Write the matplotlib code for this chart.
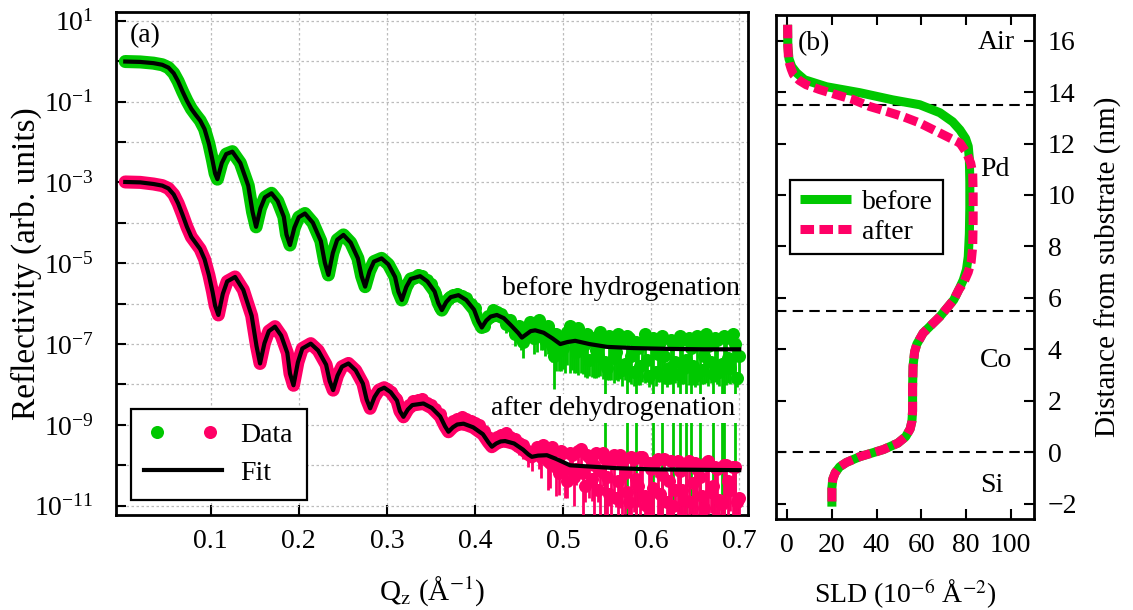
import numpy as np
import matplotlib
matplotlib.use("Agg")
import matplotlib.pyplot as plt
from matplotlib.ticker import FixedLocator, FuncFormatter, NullLocator
from matplotlib.lines import Line2D
from matplotlib.legend_handler import HandlerTuple

# ---------------------------------------------------------------- data
# Fitted reflectivity curves, log10(R) versus Qz (1/Angstrom)
q_fit_before = [0.003, 0.02, 0.035, 0.045, 0.052, 0.058, 0.063, 0.068, 0.073, 0.078,
                0.083, 0.088, 0.093, 0.098, 0.102, 0.105, 0.1076, 0.1126, 0.1176, 0.1246,
                0.1336, 0.1426, 0.1475, 0.1515, 0.1565, 0.1615, 0.169, 0.176, 0.183, 0.186,
                0.190, 0.195, 0.200, 0.207, 0.216, 0.225, 0.2296, 0.2336, 0.2386, 0.2436,
                0.2507, 0.2589, 0.2671, 0.2713, 0.2753, 0.2803, 0.2853, 0.294, 0.3017, 0.3093,
                0.313, 0.317, 0.322, 0.327, 0.3378, 0.346, 0.3542, 0.3584, 0.3624, 0.3674,
                0.3724, 0.3813, 0.3901, 0.399, 0.4038, 0.4078, 0.4128, 0.4178, 0.4249, 0.4328,
                0.4406, 0.4493, 0.4533, 0.4583, 0.4633, 0.4684, 0.478, 0.488, 0.4968, 0.505,
                0.5138, 0.53, 0.55, 0.58, 0.62, 0.66, 0.70]
logr_fit_before = [-0.01, -0.02, -0.05, -0.09, -0.16, -0.30, -0.50, -0.75, -0.98, -1.18,
                   -1.33, -1.47, -1.68, -2.05, -2.45, -2.78, -2.92, -2.52, -2.30, -2.24,
                   -2.52, -3.08, -3.73, -4.10, -3.64, -3.37, -3.27, -3.46, -3.85, -4.29,
                   -4.55, -4.12, -3.86, -3.77, -4.00, -4.45, -4.99, -5.29, -4.75, -4.42,
                   -4.30, -4.49, -4.88, -5.32, -5.58, -5.20, -4.96, -4.88, -5.03, -5.34,
                   -5.70, -5.91, -5.59, -5.39, -5.32, -5.45, -5.70, -5.99, -6.16, -5.96,
                   -5.84, -5.79, -5.91, -6.15, -6.43, -6.59, -6.42, -6.32, -6.28, -6.36,
                   -6.53, -6.73, -6.84, -6.76, -6.68, -6.66, -6.72, -6.86, -7.00, -6.95,
                   -6.92, -7.00, -7.07, -7.10, -7.12, -7.13, -7.13]

q_fit_after = [0.003, 0.02, 0.035, 0.045, 0.052, 0.058, 0.063, 0.068, 0.073, 0.078,
               0.083, 0.088, 0.093, 0.098, 0.102, 0.105, 0.1087, 0.1137, 0.1187, 0.1277,
               0.137, 0.1465, 0.152, 0.156, 0.161, 0.166, 0.173, 0.180, 0.187, 0.190,
               0.194, 0.199, 0.204, 0.2136, 0.222, 0.231, 0.235, 0.239, 0.244, 0.249,
               0.2564, 0.2646, 0.2728, 0.277, 0.281, 0.286, 0.291, 0.297, 0.3043, 0.3115,
               0.3148, 0.3188, 0.3238, 0.3288, 0.3415, 0.351, 0.3605, 0.3659, 0.3699, 0.3749,
               0.3799, 0.387, 0.398, 0.409, 0.4152, 0.4192, 0.4242, 0.4292, 0.4343, 0.4444,
               0.4545, 0.4606, 0.4646, 0.4716, 0.4817, 0.492, 0.508, 0.53, 0.56, 0.60,
               0.65, 0.70]
logr_fit_after = [-2.99, -3.00, -3.04, -3.08, -3.15, -3.30, -3.52, -3.80, -4.10, -4.35,
                  -4.50, -4.65, -4.90, -5.30, -5.70, -6.05, -6.28, -5.76, -5.45, -5.34,
                  -5.66, -6.30, -7.05, -7.48, -6.98, -6.68, -6.57, -6.79, -7.22, -7.73,
                  -8.02, -7.45, -7.11, -6.99, -7.16, -7.51, -7.91, -8.14, -7.78, -7.56,
                  -7.48, -7.65, -7.98, -8.37, -8.59, -8.31, -8.14, -8.08, -8.19, -8.40,
                  -8.66, -8.80, -8.62, -8.51, -8.47, -8.58, -8.79, -9.03, -9.17, -9.06,
                  -8.99, -8.97, -9.06, -9.23, -9.43, -9.54, -9.46, -9.41, -9.40, -9.46,
                  -9.61, -9.73, -9.79, -9.76, -9.75, -9.84, -10.00, -10.03, -10.07, -10.10,
                  -10.11, -10.12]

# Below these Qz values the measured points lie on the model curve
q_clean_before = 0.46
q_clean_after = 0.47

# Measured points in the noisy high-Q range: Qz, log10(R) and relative error dR/R
q_meas_before = [
    0.330, 0.335, 0.340, 0.345, 0.350, 0.355, 0.360, 0.365, 0.370, 0.375,
    0.380, 0.385, 0.390, 0.395, 0.400, 0.405, 0.410, 0.415, 0.420, 0.425,
    0.430, 0.435, 0.440, 0.445,
    0.4500, 0.4525, 0.4550, 0.4575, 0.4600, 0.4625, 0.4650, 0.4675, 0.4700, 0.4725,
    0.4750, 0.4775, 0.4800, 0.4825, 0.4850, 0.4875, 0.4900, 0.4925, 0.4950, 0.4975,
    0.5000, 0.5025, 0.5050, 0.5075, 0.5100, 0.5125, 0.5150, 0.5175, 0.5200, 0.5225,
    0.5250, 0.5275, 0.5300, 0.5325, 0.5350, 0.5375, 0.5400, 0.5425, 0.5450, 0.5475,
    0.5500, 0.5525, 0.5550, 0.5575, 0.5600, 0.5625, 0.5650, 0.5675, 0.5700, 0.5725,
    0.5750, 0.5775, 0.5800, 0.5825, 0.5850, 0.5875, 0.5900, 0.5925, 0.5950, 0.5975,
    0.6000, 0.6025, 0.6050, 0.6075, 0.6100, 0.6125, 0.6150, 0.6175, 0.6200, 0.6225,
    0.6250, 0.6275, 0.6300, 0.6325, 0.6350, 0.6375, 0.6400, 0.6425, 0.6450, 0.6475,
    0.6500, 0.6525, 0.6550, 0.6575, 0.6600, 0.6625, 0.6650, 0.6675, 0.6700, 0.6725,
    0.6750, 0.6775, 0.6800, 0.6825, 0.6850, 0.6875, 0.6900, 0.6925, 0.6950, 0.6975,
    0.7000]
logr_meas_before = [
    -5.36, -5.30, -5.31, -5.42, -5.52, -5.75, -6.08, -6.00, -5.85, -5.78,
    -5.76, -5.80, -5.85, -6.00, -6.10, -6.42, -6.55, -6.30, -6.15, -6.20,
    -6.25, -6.50, -6.40, -6.75,
    -6.55, -6.85, -6.95, -6.70, -6.60, -6.45, -6.50, -6.85, -6.80, -6.40,
    -6.55, -6.75, -6.90, -6.55, -6.70, -7.05, -7.30, -6.75, -6.85, -7.15,
    -7.10, -6.80, -6.70, -6.55, -6.65, -6.90, -7.20, -6.60, -6.80, -7.05,
    -7.00, -6.75, -7.40, -6.90, -6.85, -7.15, -7.30, -6.70, -6.95, -7.45,
    -7.60, -6.80, -6.90, -7.35, -7.20, -6.75, -6.95, -7.65, -7.50, -6.80,
    -6.85, -7.30, -7.70, -6.95, -7.10, -7.55, -6.95, -6.75, -7.40, -7.80,
    -7.00, -6.85, -7.70, -7.25, -6.95, -6.80, -7.30, -7.85, -7.60, -6.90,
    -7.00, -7.45, -7.75, -6.80, -6.90, -7.60, -7.40, -6.85, -7.10, -7.55,
    -7.80, -6.80, -6.95, -7.65, -7.30, -6.75, -7.05, -7.45, -7.75, -6.85,
    -6.90, -7.70, -7.50, -6.80, -6.85, -7.35, -7.60, -6.75, -7.00, -7.85,
    -7.30]
rel_err_before = [
    0.10, 0.10, 0.10, 0.10, 0.12, 0.12, 0.15, 0.15, 0.12, 0.12,
    0.15, 0.15, 0.20, 0.20, 0.25, 0.30, 0.30, 0.25, 0.30, 0.30,
    0.35, 0.40, 0.40, 0.50,
    0.60, 0.50, 0.60, 0.50, 0.55, 0.60, 0.50, 0.60, 0.60, 0.70,
    0.75, 0.60, 0.60, 0.80, 0.70, 0.60, 0.85, 0.88, 0.85, 0.70,
    0.70, 0.88, 0.85, 0.93, 0.90, 0.85, 0.70, 0.93, 0.88, 0.80,
    0.85, 0.92, 0.60, 0.88, 0.90, 0.80, 0.70, 0.92, 0.88, 1.00,
    0.50, 0.92, 0.90, 0.75, 0.80, 0.93, 0.88, 0.60, 0.60, 1.00,
    0.92, 0.80, 0.55, 1.00, 0.88, 0.65, 0.90, 0.94, 0.70, 0.45,
    0.90, 1.00, 0.55, 0.80, 0.90, 1.00, 0.80, 0.40, 0.60, 0.92,
    1.00, 0.70, 0.50, 1.00, 0.92, 0.60, 1.00, 0.93, 1.00, 0.65,
    0.45, 0.94, 1.00, 0.55, 0.80, 0.94, 0.90, 0.70, 1.00, 0.92,
    0.92, 0.55, 1.00, 1.00, 0.93, 0.75, 0.60, 0.94, 1.00, 0.40,
    0.80]

q_meas_after = [
    0.300, 0.305, 0.310, 0.315, 0.320, 0.325, 0.330, 0.335, 0.340, 0.345,
    0.350, 0.355, 0.360, 0.365, 0.370, 0.375, 0.380, 0.385, 0.390, 0.395,
    0.400, 0.405, 0.410, 0.415, 0.420, 0.425, 0.430, 0.435, 0.440, 0.445,
    0.450, 0.455, 0.460, 0.465,
    0.4700, 0.4725, 0.4750, 0.4775, 0.4800, 0.4825, 0.4850, 0.4875, 0.4900, 0.4925,
    0.4950, 0.4975, 0.5000, 0.5025, 0.5050, 0.5075, 0.5100, 0.5125, 0.5150, 0.5175,
    0.5200, 0.5225, 0.5250, 0.5275, 0.5300, 0.5325, 0.5350, 0.5375, 0.5400, 0.5425,
    0.5450, 0.5475, 0.5500, 0.5525, 0.5550, 0.5575, 0.5600, 0.5625, 0.5650, 0.5675,
    0.5700, 0.5725, 0.5750, 0.5775, 0.5800, 0.5825, 0.5850, 0.5875, 0.5900, 0.5925,
    0.5950, 0.5975, 0.6000, 0.6025, 0.6050, 0.6075, 0.6100, 0.6125, 0.6150, 0.6175,
    0.6200, 0.6225, 0.6250, 0.6275, 0.6300, 0.6325, 0.6350, 0.6375, 0.6400, 0.6425,
    0.6450, 0.6475, 0.6500, 0.6525, 0.6550, 0.6575, 0.6600, 0.6625, 0.6650, 0.6675,
    0.6700, 0.6725, 0.6750, 0.6775, 0.6800, 0.6825, 0.6850, 0.6875, 0.6900, 0.6925,
    0.6950, 0.6975, 0.7000]
logr_meas_after = [
    -8.10, -8.18, -8.35, -8.60, -8.72, -8.52, -8.42, -8.38, -8.35, -8.45,
    -8.50, -8.60, -8.72, -8.95, -9.10, -8.90, -8.85, -8.80, -8.85, -8.90,
    -8.95, -9.00, -9.15, -9.30, -9.40, -9.30, -9.25, -9.20, -9.30, -9.35,
    -9.45, -9.50, -9.65, -9.75,
    -9.55, -9.70, -9.80, -9.50, -9.60, -9.90, -9.95, -9.55, -9.65, -10.05,
    -10.20, -9.65, -9.70, -10.10, -10.40, -9.70, -9.75, -10.30, -10.10, -9.65,
    -9.60, -10.20, -10.50, -9.75, -9.80, -10.35, -10.00, -9.70, -10.60, -10.15,
    -9.70, -9.85, -10.30, -10.70, -9.90, -9.75, -10.80, -10.40, -9.75, -9.95,
    -10.20, -10.65, -10.90, -9.80, -9.85, -10.35, -10.50, -9.80, -9.80, -10.75,
    -11.00, -9.95, -10.10, -10.55, -9.90, -9.85, -10.70, -10.25, -9.85, -10.90,
    -10.40, -9.90, -11.00, -10.60, -9.90, -10.15, -10.60, -10.85, -10.00, -9.90,
    -10.90, -10.45, -9.95, -10.10, -10.30, -10.75, -11.05, -9.95, -9.90, -10.65,
    -10.50, -10.05, -10.10, -10.85, -10.95, -10.00, -10.00, -10.40, -10.60, -10.05,
    -10.05, -10.90, -10.80]
rel_err_after = [
    0.10, 0.10, 0.10, 0.12, 0.12, 0.12, 0.15, 0.15, 0.15, 0.15,
    0.18, 0.18, 0.20, 0.20, 0.20, 0.22, 0.25, 0.25, 0.25, 0.30,
    0.30, 0.30, 0.35, 0.35, 0.40, 0.40, 0.40, 0.45, 0.45, 0.50,
    0.50, 0.55, 0.60, 0.60,
    0.50, 0.60, 0.70, 0.50, 0.60, 0.80, 0.75, 0.50, 0.60, 0.80,
    0.70, 0.60, 0.70, 0.80, 0.60, 0.70, 0.75, 0.80, 0.60, 0.70,
    0.80, 1.00, 0.60, 0.80, 0.90, 0.70, 1.00, 0.85, 0.50, 1.00,
    0.85, 1.00, 0.90, 0.50, 1.00, 0.90, 0.40, 1.00, 0.95, 1.00,
    0.90, 0.60, 1.00, 1.00, 0.95, 1.00, 0.70, 1.00, 0.95, 1.00,
    1.00, 1.00, 0.95, 1.00, 0.60, 1.00, 0.95, 1.00, 0.70, 1.00,
    0.90, 1.00, 1.00, 0.50, 1.00, 0.95, 1.00, 0.60, 0.95, 1.00,
    0.50, 1.00, 1.00, 0.95, 1.00, 0.80, 1.00, 1.00, 0.95, 0.70,
    1.00, 1.00, 0.95, 0.60, 1.00, 1.00, 0.90, 1.00, 0.70, 1.00,
    0.95, 1.00, 0.80]

# Scattering length density profiles: distance z (nm) and SLD (1e-6 / A^2)
z_before = [16.62, 15.8, 15.3, 15.0, 14.75, 14.48, 14.21, 13.98, 13.70, 13.51,
            13.20, 12.85, 12.53, 12.2, 11.89, 11.4, 10.5, 9.5, 8.5, 7.6,
            7.1, 6.7, 6.32, 5.92, 5.27, 4.63, 4.2, 3.9, 3.33, 2.5,
            1.6, 1.2, 0.9, 0.6, 0.35, 0.1, -0.18, -0.4, -0.57, -0.8,
            -1.05, -1.4, -2.12]
sld_before = [0.2, 0.3, 0.8, 2.0, 4.2, 7.8, 17.6, 32.4, 47.2, 59.3,
              68.3, 74.0, 77.3, 79.8, 81.0, 81.5, 81.7, 81.7, 81.5, 81.0,
              80.2, 78.8, 76.8, 74.5, 68.3, 60.8, 58.0, 57.0, 56.3, 56.1,
              56.1, 55.8, 55.0, 53.0, 49.5, 43.0, 32.4, 26.5, 23.5, 21.5,
              20.4, 20.0, 20.0]

z_after = [16.62, 15.8, 15.3, 15.13, 14.9, 14.68, 14.45, 14.29, 14.1, 13.9,
           13.71, 13.44, 13.25, 13.05, 12.8, 12.54, 12.28, 12.02, 11.63, 11.24,
           10.85, 10.0, 9.0, 8.0, 7.4, 7.0, 6.6, 6.32, 5.92, 5.27,
           4.63, 4.2, 3.9, 3.33, 2.5, 1.6, 1.2, 0.9, 0.6, 0.35,
           0.1, -0.18, -0.4, -0.57, -0.8, -1.05, -1.4, -2.12]
sld_after = [0.2, 0.3, 0.6, 1.0, 1.8, 2.8, 5.5, 8.5, 14.5, 22.0,
             29.5, 37.0, 44.4, 51.8, 59.3, 65.3, 71.3, 77.3, 80.3, 82.1,
             83.0, 83.2, 83.2, 83.0, 82.3, 81.0, 79.0, 76.8, 74.5, 68.3,
             60.8, 58.0, 57.0, 56.3, 56.1, 56.1, 55.8, 55.0, 53.0, 49.5,
             43.0, 32.4, 26.5, 23.5, 21.5, 20.4, 20.0, 20.0]

interfaces = [13.5, 5.5, 0.0]
layer_names = ["Air", "Pd", "Co", "Si"]

refl_ticks = [0.1, 0.2, 0.3, 0.4, 0.5, 0.6, 0.7]
decades = list(range(-11, 2))
sld_ticks = [0, 20, 40, 60, 80, 100]
z_ticks = [-2, 0, 2, 4, 6, 8, 10, 12, 14, 16]

# ---------------------------------------------------------------- style
plt.rcParams["font.family"] = "serif"
plt.rcParams["font.serif"] = ["Liberation Serif", "DejaVu Serif"]
plt.rcParams["mathtext.fontset"] = "stix"

GREEN = "#00c800"
PINK = "#ff0066"
FS_TICK = 20
FS_TEXT = 20
SPINE_W = 2.0

fig = plt.figure(figsize=(11.33, 6.10), dpi=100)
ax1 = fig.add_axes([0.1024, 0.1557, 0.5578, 0.8246])
ax2 = fig.add_axes([0.6849, 0.1492, 0.2277, 0.8262])

# ---------------------------------------------------------------- panel (a)
def draw_measured(ax, q_fit, logr_fit, q_cut, q_meas, logr_meas, rel, color, z):
    qf = np.asarray(q_fit)
    rf = 10.0 ** np.asarray(logr_fit)
    keep = qf <= q_cut
    ax.plot(qf[keep], rf[keep], color=color, lw=9.4, solid_capstyle="round",
            solid_joinstyle="round", zorder=z)
    qm = np.asarray(q_meas)
    rm = 10.0 ** np.asarray(logr_meas)
    rel = np.asarray(rel)
    low = np.where(rel < 1.0, rm * (1.0 - np.minimum(rel, 0.999)), 1e-14)
    ax.vlines(qm, low, rm, color=color, lw=2.0, zorder=z)
    ax.plot(qm, rm, "o", color=color, ms=9.4, mec="none", zorder=z)

draw_measured(ax1, q_fit_before, logr_fit_before, q_clean_before,
              q_meas_before, logr_meas_before, rel_err_before, GREEN, 2)
draw_measured(ax1, q_fit_after, logr_fit_after, q_clean_after,
              q_meas_after, logr_meas_after, rel_err_after, PINK, 3)

ax1.plot(q_fit_before, 10.0 ** np.asarray(logr_fit_before), color="black", lw=3.0, zorder=4)
ax1.plot(q_fit_after, 10.0 ** np.asarray(logr_fit_after), color="black", lw=3.0, zorder=4)

ax1.set_yscale("log")
ax1.set_xlim(-0.0075, 0.71)
ax1.set_ylim(10 ** -11.23, 10 ** 1.215)
ax1.yaxis.set_major_locator(FixedLocator([10.0 ** e for e in decades]))
ax1.yaxis.set_minor_locator(NullLocator())
ax1.yaxis.set_major_formatter(FuncFormatter(
    lambda v, pos: r"$\mathdefault{10^{%d}}$" % round(np.log10(v))
    if round(np.log10(v)) % 2 != 0 else ""))
ax1.xaxis.set_major_locator(FixedLocator(refl_ticks))
ax1.xaxis.set_major_formatter(FuncFormatter(lambda v, pos: "%.1f" % v))
ax1.tick_params(direction="in", length=7, width=1.5, labelsize=FS_TICK,
                top=False, right=False)
ax1.tick_params(axis="y", pad=16)
ax1.tick_params(axis="x", pad=10)
ax1.grid(True, color="#bcbcbc", linestyle=(0, (2, 2)), lw=0.9)
ax1.set_axisbelow(True)
for s in ax1.spines.values():
    s.set_linewidth(SPINE_W)

ax1.set_xlabel(r"Q$_\mathrm{z}$ (Å$^{-1}$)", fontsize=FS_TEXT + 1, labelpad=15)
ax1.set_ylabel("Reflectivity (arb. units)", fontsize=24)
ax1.yaxis.set_label_coords(-0.117, 0.5)

ax1.text(0.022, 0.954, "(a)", transform=ax1.transAxes, fontsize=FS_TEXT,
         ha="left", va="center")
ax1.text(0.701, 10 ** -5.62, "before hydrogenation", fontsize=FS_TEXT,
         ha="right", va="center", zorder=6)
ax1.text(0.695, 10 ** -8.59, "after dehydrogenation", fontsize=FS_TEXT,
         ha="right", va="center", zorder=6,
         bbox=dict(facecolor="white", edgecolor="none", pad=1.5))

h_data = (Line2D([], [], marker="o", ls="none", color=GREEN, ms=9.4, mec="none"),
          Line2D([], [], marker="o", ls="none", color=PINK, ms=9.4, mec="none"))
h_fit = Line2D([], [], color="black", lw=3.0)
leg1 = ax1.legend([h_data, h_fit], ["Data", "Fit"],
                  handler_map={tuple: HandlerTuple(ndivide=None, pad=1.0)},
                  loc="lower left", bbox_to_anchor=(0.023, 0.03), borderaxespad=0,
                  fontsize=FS_TEXT, handlelength=2.8, handletextpad=0.65,
                  borderpad=0.5, labelspacing=0.45, fancybox=False, framealpha=1)
leg1.get_frame().set_edgecolor("black")
leg1.get_frame().set_linewidth(1.6)
leg1.set_zorder(7)

# ---------------------------------------------------------------- panel (b)
for zi in interfaces:
    ax2.axhline(zi, color="black", lw=1.5, linestyle=(0, (5, 3)), zorder=1)
ax2.plot(sld_before, z_before, color=GREEN, lw=6.5, solid_capstyle="butt", zorder=2,
         label="before")
ax2.plot(sld_after, z_after, color=PINK, lw=6.5, linestyle=(0, (1.5, 0.6)),
         dash_capstyle="butt", zorder=3, label="after")

ax2.set_xlim(-5, 110.4)
ax2.set_ylim(-2.6, 17.0)
ax2.xaxis.set_major_locator(FixedLocator(sld_ticks))
ax2.yaxis.set_major_locator(FixedLocator(z_ticks))
ax2.tick_params(direction="in", length=7, width=1.5, labelsize=FS_TICK,
                top=True, bottom=True, left=True, right=True,
                labelleft=False, labelright=True)
ax2.tick_params(axis="y", pad=10)
ax2.tick_params(axis="x", pad=10)
for s in ax2.spines.values():
    s.set_linewidth(SPINE_W)

ax2.set_xlabel(r"SLD (10$^{-6}$ Å$^{-2}$)", fontsize=FS_TEXT, labelpad=14)
ax2.yaxis.set_label_position("right")
ax2.set_ylabel("Distance from substrate (nm)", fontsize=21)
ax2.yaxis.set_label_coords(1.237, 0.5)

ax2.text(0.085, 0.944, "(b)", transform=ax2.transAxes, fontsize=FS_TEXT,
         ha="left", va="center")
ax2.text(102, 15.92, layer_names[0], fontsize=FS_TEXT, ha="right", va="center")
ax2.text(86.5, 10.98, layer_names[1], fontsize=FS_TEXT, ha="left", va="center")
ax2.text(86.0, 3.55, layer_names[2], fontsize=FS_TEXT, ha="left", va="center")
ax2.text(86.2, -1.28, layer_names[3], fontsize=FS_TEXT, ha="left", va="center")

leg2 = ax2.legend(loc="upper left", bbox_to_anchor=(0.054, 0.673), borderaxespad=0,
                  fontsize=FS_TEXT, handlelength=1.85, handletextpad=0.4,
                  borderpad=0.35, labelspacing=0.15, fancybox=False, framealpha=1)
leg2.get_frame().set_edgecolor("black")
leg2.get_frame().set_linewidth(1.6)

fig.savefig("out.png", dpi=100, facecolor="white")
